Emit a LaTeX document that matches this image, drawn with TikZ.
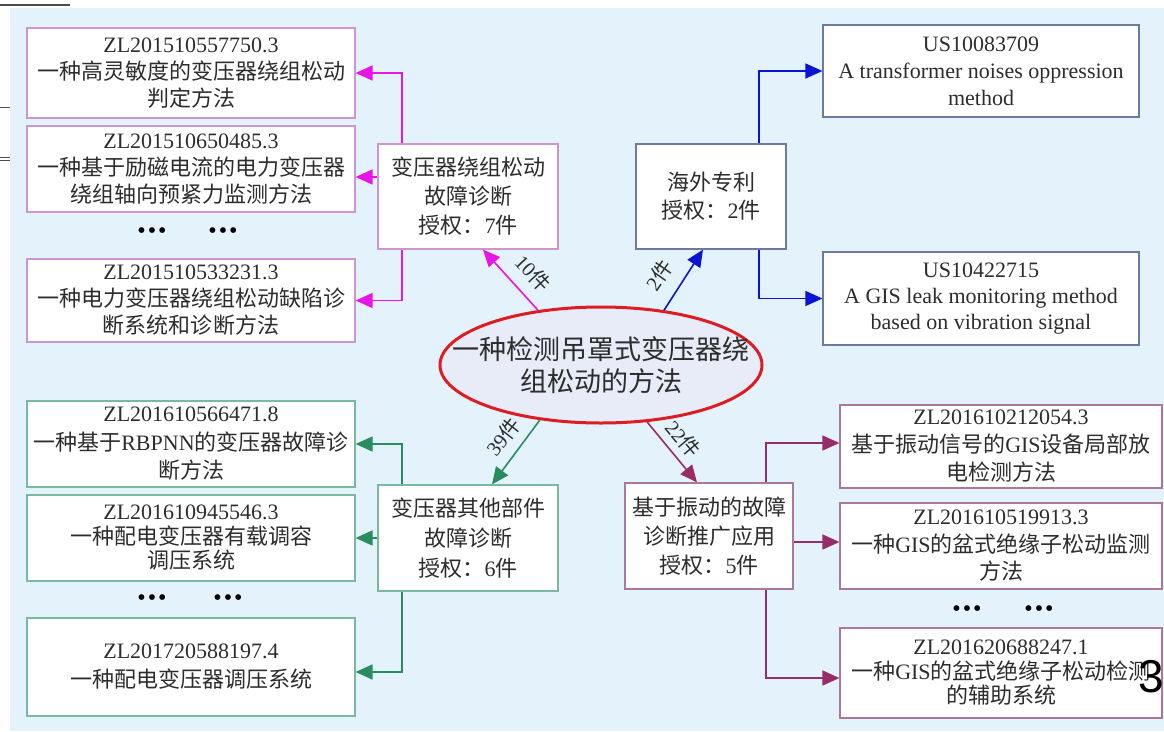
\documentclass[tikz,border=0pt]{standalone}
\usepackage{fontspec}
\setmainfont{Liberation Serif}
\newfontfamily\zh{Noto Sans CJK SC}
\newfontfamily\lsans{Liberation Sans}
\usetikzlibrary{arrows.meta,shapes.geometric,calc}
\definecolor{bgblue}{RGB}{228,242,251}
\definecolor{pk}{RGB}{232,20,232}
\definecolor{pkb}{RGB}{205,150,210}
\definecolor{bl}{RGB}{10,20,210}
\definecolor{blb}{RGB}{110,120,165}
\definecolor{gr}{RGB}{40,140,95}
\definecolor{grb}{RGB}{120,185,160}
\definecolor{pl}{RGB}{150,45,105}
\definecolor{plb}{RGB}{170,120,155}
\definecolor{rd}{RGB}{220,30,35}
\definecolor{ellf}{RGB}{232,235,248}
\definecolor{txt}{RGB}{45,45,45}
\tikzset{
  pbox/.style={draw, fill=white, line width=1.2pt, inner sep=0pt, align=center, text=txt, font=\fontsize{22}{27}\selectfont},
  tight/.style={font=\fontsize{22}{24.5}\selectfont},
  conn/.style={line width=1.6pt, -{Triangle[length=17pt,width=15pt]}},
  lab/.style={text=txt, inner sep=0pt, font=\fontsize{20.5}{20.5}\selectfont},
  dotsnode/.style={text=black, inner sep=0pt, font=\fontsize{24}{24}\selectfont},
  artline/.style={draw=gray!60!black}
}
\begin{document}
\begin{tikzpicture}[x=1pt,y=-1pt]
\useasboundingbox (0,0) rectangle (1164,731);
\fill[white] (0,0) rectangle (1164,731);
\fill[bgblue] (10,8) rectangle (1164,731);
% scan artefacts
\draw[artline, line width=2.5pt] (0,5) -- (70,5);
\draw[artline, line width=1pt] (0,107) -- (10,107);
\draw[artline, line width=1pt] (0,157) -- (10,157);
\draw[artline, line width=1pt] (0,160.5) -- (10,160.5);

% centre
\node[ellipse, draw=rd, line width=3pt, fill=ellf, minimum width=322pt, minimum height=116pt, inner sep=0pt] (ell) at (601,365) {};
\node[text=txt, align=center, font=\fontsize{27}{32}\selectfont\zh] (elltxt) at (ell.center) {一种检测吊罩式变压器绕\\组松动的方法};

% top-left (pink)
\node[pbox, draw=pkb, minimum width=328pt, minimum height=90pt] (A1) at (191,73) {ZL201510557750.3\\{\zh 一种高灵敏度的变压器绕组松动}\\{\zh 判定方法}};
\node[pbox, draw=pkb, minimum width=328pt, minimum height=86pt] (A2) at (191,169) {ZL201510650485.3\\{\zh 一种基于励磁电流的电力变压器}\\{\zh 绕组轴向预紧力监测方法}};
\node[dotsnode] (dA1) at (152,233) {\textbullet\kern2pt\textbullet\kern2pt\textbullet};
\node[dotsnode] (dA2) at (223,233) {\textbullet\kern2pt\textbullet\kern2pt\textbullet};
\node[pbox, draw=pkb, minimum width=328pt, minimum height=83pt] (A3) at (191,300.5) {ZL201510533231.3\\{\zh 一种电力变压器绕组松动缺陷诊}\\{\zh 断系统和诊断方法}};
\node[pbox, draw=pkb, minimum width=180pt, minimum height=105pt, font=\fontsize{22}{29}\selectfont] (B) at (468,196.5) {{\zh 变压器绕组松动}\\{\zh 故障诊断}\\{\zh 授权：}7{\zh 件}};

% top-right (blue)
\node[pbox, draw=blb, minimum width=150pt, minimum height=105pt, font=\fontsize{22}{28}\selectfont] (C) at (711,196.5) {{\zh 海外专利}\\{\zh 授权：}2{\zh 件}};
\node[pbox, draw=blb, minimum width=316pt, minimum height=92pt] (D1) at (981,71) {US10083709\\A transformer noises oppression\\method};
\node[pbox, draw=blb, minimum width=316pt, minimum height=93pt, font=\fontsize{22}{26}\selectfont] (D2) at (981,298.5) {US10422715\\A GIS leak monitoring method\\based on vibration signal};

% bottom-left (green)
\node[pbox, draw=grb, minimum width=328pt, minimum height=86pt, font=\fontsize{22}{28.5}\selectfont] (E1) at (191,444) {ZL201610566471.8\\{\zh 一种基于}RBPNN{\zh 的变压器故障诊}\\{\zh 断方法}};
\node[pbox, draw=grb, minimum width=328pt, minimum height=86pt, tight] (E2) at (191,538) {ZL201610945546.3\\{\zh 一种配电变压器有载调容}\\{\zh 调压系统}};
\node[dotsnode] (dE1) at (152,600) {\textbullet\kern2pt\textbullet\kern2pt\textbullet};
\node[dotsnode] (dE2) at (228,600) {\textbullet\kern2pt\textbullet\kern2pt\textbullet};
\node[pbox, draw=grb, minimum width=328pt, minimum height=98pt, font=\fontsize{22}{29}\selectfont] (E3) at (191,667) {ZL201720588197.4\\{\zh 一种配电变压器调压系统}};
\node[pbox, draw=grb, minimum width=180pt, minimum height=106pt, font=\fontsize{22}{30}\selectfont] (F) at (468,538) {{\zh 变压器其他部件}\\{\zh 故障诊断}\\{\zh 授权：}6{\zh 件}};

% bottom-right (plum)
\node[pbox, draw=plb, minimum width=168pt, minimum height=106pt, font=\fontsize{22}{29}\selectfont] (G) at (709,536) {{\zh 基于振动的故障}\\{\zh 诊断推广应用}\\{\zh 授权：}5{\zh 件}};
\node[pbox, draw=plb, minimum width=322pt, minimum height=83pt, font=\fontsize{22}{28}\selectfont] (H1) at (1001,446.5) {ZL201610212054.3\\{\zh 基于振动信号的}GIS{\zh 设备局部放}\\{\zh 电检测方法}};
\node[pbox, draw=plb, minimum width=322pt, minimum height=86pt, font=\fontsize{22}{27.5}\selectfont] (H2) at (1001,546) {ZL201610519913.3\\{\zh 一种}GIS{\zh 的盆式绝缘子松动监测}\\{\zh 方法}};
\node[dotsnode] (dH1) at (967,611) {\textbullet\kern2pt\textbullet\kern2pt\textbullet};
\node[dotsnode] (dH2) at (1039,611) {\textbullet\kern2pt\textbullet\kern2pt\textbullet};
\node[pbox, draw=plb, minimum width=322pt, minimum height=90pt, font=\fontsize{22}{24.5}\selectfont] (H3) at (1001,673) {ZL201620688247.1\\{\zh 一种}GIS{\zh 的盆式绝缘子松动检测}\\{\zh 的辅助系统}};

% page-number artefact
\node[text=black, inner sep=0pt, font=\lsans\fontsize{46}{46}\selectfont] (pg) at (1151,677) {3};

% connectors from centre
\draw[conn, pk] (ell.139) -- ([xshift=15pt]B.south);
\draw[conn, bl] (ell.41) -- ([xshift=-8pt]C.south);
\draw[conn, gr] (ell.222) -- ([xshift=24pt]F.north);
\draw[conn, pl] (ell.309) -- ([xshift=-12pt]G.north);
\node[lab, rotate=-47] (l10) at (533,273) {10{\zh 件}};
\node[lab, rotate=55] (l2) at (659,275) {2{\zh 件}};
\node[lab, rotate=52] (l39) at (503,437) {39{\zh 件}};
\node[lab, rotate=-50] (l22) at (683,439) {22{\zh 件}};

% pink elbows
\coordinate (b2) at ([yshift=19.5pt]B.west);
\draw[conn, pk] ([xshift=-66pt]B.north) |- (A1.east);
\draw[conn, pk] (b2) -- (b2 -| A2.east);
\draw[conn, pk] ([xshift=-66pt]B.south) |- (A3.east);

% blue elbows
\draw[conn, bl] ([xshift=48pt]C.north) |- (D1.west);
\draw[conn, bl] ([xshift=48pt]C.south) |- (D2.west);

% green elbows
\coordinate (e3t) at ([yshift=-5pt]E3.east);
\draw[conn, gr] ([xshift=-66pt]F.north) |- (E1.east);
\draw[conn, gr] (F.west) -- (E2.east);
\draw[conn, gr] ([xshift=-66pt]F.south) |- (e3t);

% plum elbows
\coordinate (h1t) at ([yshift=3.5pt]H1.west);
\coordinate (g2) at ([yshift=-6pt]G.east);
\coordinate (h3t) at ([yshift=-5pt]H3.west);
\draw[conn, pl] ([xshift=57pt]G.north) |- (h1t);
\draw[conn, pl] (g2) -- (g2 -| H2.west);
\draw[conn, pl] ([xshift=57pt]G.south) |- (h3t);
\end{tikzpicture}
\end{document}
